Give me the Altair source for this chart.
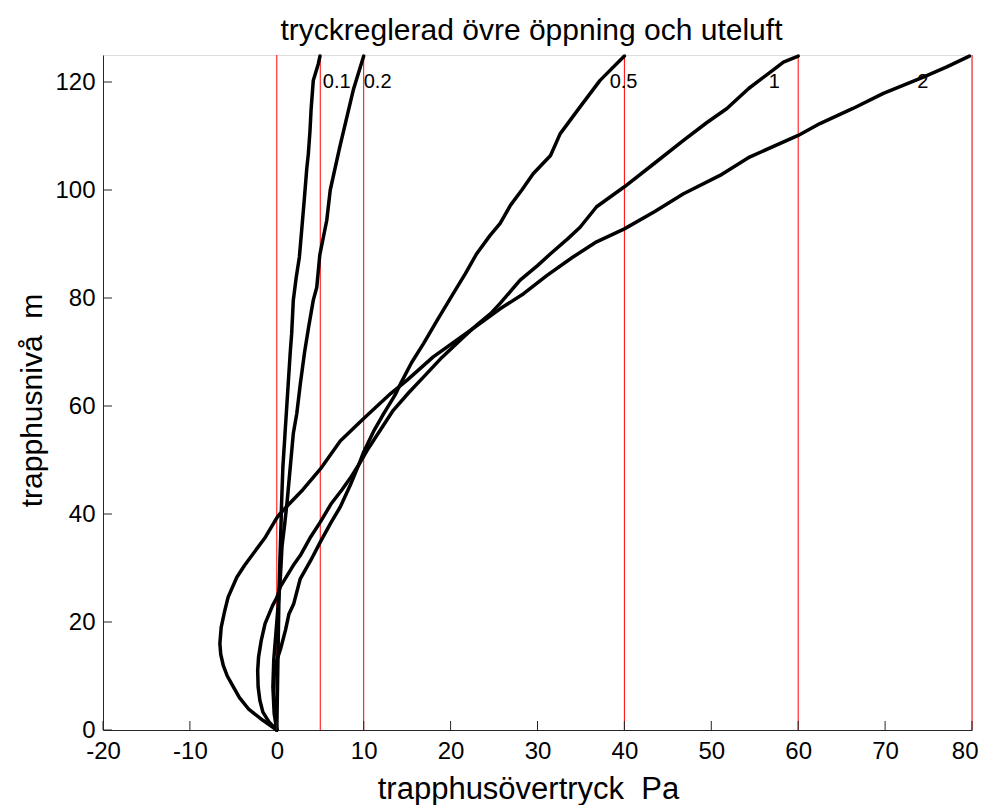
import altair as alt
import pandas as pd

# ---- data ----
ref_lines = [0, 5, 10, 40, 60, 80]
x_ticks = [-20, -10, 0, 10, 20, 30, 40, 50, 60, 70, 80]
y_ticks = [0, 20, 40, 60, 80, 100, 120]

c01_x = [0, 0.05, 0.1, 0.15, 0.2, 0.25, 0.35, 0.45, 0.55, 0.7, 0.95, 1.15, 1.33, 1.55, 1.71, 1.9, 2.25, 2.6, 2.86, 3.15, 3.45, 3.63, 3.82, 3.95, 4.2, 4.78, 4.97]
c01_y = [0, 5, 10, 15, 20, 25, 31, 36, 42, 48.7, 55, 60, 64.5, 70, 73.4, 79.6, 84, 87.6, 92.5, 98, 104, 106.7, 111, 115, 120.3, 123.4, 124.8]

c02_x = [0, -0.3, -0.45, -0.35, -0.1, 0.15, 0.4, 0.6, 0.9, 1.2, 1.55, 1.9, 2.3, 2.7, 3.2, 3.65, 4.2, 4.6, 4.95, 5.75, 6.15, 7.25, 8.8, 10.0]
c02_y = [0, 3, 8, 13, 18, 23, 28, 34, 38, 42.5, 48.7, 54.9, 58.6, 64, 70, 74.5, 79.6, 82, 88, 94.4, 100, 108, 118.5, 124.8]

c05_x = [0, -0.2, -0.35, -0.3, 0, 0.43, 1.0, 1.4, 1.95, 2.7, 3.9, 5.0, 6.2, 7.3, 8.5, 9.4, 10.0, 11.2, 12.3, 13.6, 14.2, 15.5, 16.9, 18.5, 20.3, 21.7, 23.0, 24.5, 25.7, 26.9, 28.2, 29.5, 31.5, 32.6, 34.9, 37.2, 40.0]
c05_y = [0, 3, 7, 10, 12.9, 15, 18.5, 21.5, 23.4, 28, 31.4, 34.8, 38.3, 41.3, 45.5, 49.0, 51.5, 55.5, 58.6, 62, 64, 68, 71.6, 76, 80.8, 84.5, 88.2, 91.5, 93.8, 97.2, 100, 103, 106.4, 110.4, 115.4, 120.3, 124.8]

c1_x = [0, -0.9, -1.6, -1.95, -2.15, -2.2, -2.1, -1.8, -1.35, -0.5, 0.0, 0.4, 1.9, 2.7, 3.8, 5.0, 6.3, 7.5, 8.6, 9.5, 10.4, 11.9, 13.4, 15.2, 16.9, 19.0, 21.5, 23.0, 24.6, 25.7, 28.0, 30.0, 31.5, 33.5, 34.9, 36.8, 40.0, 43.5, 46.8, 49.5, 51.8, 54.3, 57.1, 58.3, 60.0]
c1_y = [0, 1.5, 3.3, 5.5, 8, 11, 13.5, 16.5, 19.7, 23, 24.5, 26.5, 30.5, 32.3, 35.5, 38.5, 42, 44.5, 47, 49.3, 51.8, 55.5, 59.2, 62.5, 65.4, 69, 72.8, 75, 77.1, 79.0, 83.3, 86, 88.2, 91, 93.1, 96.9, 100.6, 105, 109.2, 112.5, 115.1, 118.8, 122.2, 123.7, 124.8]

c2_x = [0, -1.6, -3.2, -4.3, -5.0, -5.7, -6.15, -6.45, -6.55, -6.4, -6.0, -5.6, -4.6, -3.7, -2.7, -1.4, 0, 0.4, 1.5, 3.0, 5.0, 7.3, 10.0, 13.1, 15.0, 18.0, 21.5, 25.7, 28.4, 31.1, 34.0, 36.8, 40.0, 43.5, 46.8, 51.0, 54.4, 60.0, 62.5, 66.3, 69.8, 74.4, 77.1, 79.7]
c2_y = [0, 1.8, 3.8, 6, 8, 10, 11.9, 14, 16, 19, 22, 24.6, 28.3, 30.5, 32.7, 35.5, 39.3, 40.1, 42, 44.5, 48.3, 53.5, 57.7, 62.3, 64.8, 69.1, 73.1, 78.0, 80.8, 84.2, 87.5, 90.4, 92.8, 96, 99.3, 102.7, 106.1, 110.1, 112.3, 115.1, 117.9, 120.9, 122.8, 124.8]

labels = ["0.1", "0.2", "0.5", "1", "2"]
label_x = [5.3, 10.0, 38.3, 56.6, 73.7]
label_y = [120, 120, 120, 120, 120]

title_text = "tryckreglerad övre öppning och uteluft"

# ---- tables ----
rows = []
for name, xs_, ys_ in [("0.1", c01_x, c01_y), ("0.2", c02_x, c02_y), ("0.5", c05_x, c05_y),
                       ("1", c1_x, c1_y), ("2", c2_x, c2_y)]:
    for i, (a, b) in enumerate(zip(xs_, ys_)):
        rows.append({"series": name, "idx": i, "x": a, "y": b})
curves = pd.DataFrame(rows)
refs = pd.DataFrame({"x": ref_lines})
xt = pd.DataFrame({"x": x_ticks})
yt = pd.DataFrame({"y": y_ticks})
lab = pd.DataFrame({"label": labels, "x": label_x, "y": label_y})
ttl = pd.DataFrame({"t": [title_text]})

W, H = 869, 675
FONT = "Liberation Sans"
AX = "#262626"

xscale = alt.Scale(domain=[-20, 80], nice=False, zero=False)
yscale = alt.Scale(domain=[0, 125], nice=False, zero=False)

x_axis = alt.Axis(values=x_ticks, title="trapphusövertryck\u00a0\u00a0Pa", grid=False, ticks=False, tickSize=0,
                  labelFontSize=24, labelFont=FONT, labelColor="black", labelPadding=9,
                  labelExpr="'' + datum.value",
                  labelAlign=alt.condition("datum.value == 80", alt.value("right"), alt.value("center")),
                  labelOffset=alt.condition("datum.value == 80", alt.value(6), alt.value(0)),
                  domainColor=AX, domainWidth=1, titleFontSize=31, titleFont=FONT,
                  titleFontWeight="normal", titleColor="black", titleBaseline="alphabetic",
                  titleX=425, titleY=68, labelFlush=False)
y_axis = alt.Axis(values=y_ticks, title="trapphusnivå\u00a0\u00a0m", grid=False, ticks=False, tickSize=0,
                  labelFontSize=24, labelFont=FONT, labelColor="black", labelPadding=8,
                  labelExpr="'' + datum.value",
                  domainColor=AX, domainWidth=1, titleFontSize=30, titleFont=FONT,
                  titleFontWeight="normal", titleColor="black", titleBaseline="alphabetic",
                  titleX=-62, titleY=345, titleAngle=270, labelFlush=False)

X = alt.X("x:Q", scale=xscale, axis=x_axis)
Y = alt.Y("y:Q", scale=yscale, axis=y_axis)

red = alt.Chart(refs).mark_rule(color="#FF0000", strokeWidth=1).encode(x=X)

lines = alt.Chart(curves).mark_line(color="black", strokeWidth=3.5, strokeJoin="round",
                                    strokeCap="round").encode(
    x=X, y=Y, detail="series:N", order="idx:Q")

texts = alt.Chart(lab).mark_text(align="left", baseline="middle", fontSize=20, font=FONT,
                                 color="black").encode(x=X, y=Y, text="label:N")

xticks_l = alt.Chart(xt).mark_rule(color=AX, strokeWidth=1).encode(
    x=X, y=alt.value(H), y2=alt.value(H - 9))
yticks_l = alt.Chart(yt).mark_rule(color=AX, strokeWidth=1).encode(
    y=Y, x=alt.value(0), x2=alt.value(9))

title_l = alt.Chart(ttl).mark_text(align="center", baseline="alphabetic", fontSize=30, font=FONT,
                                   color="black").encode(
    x=alt.value(W / 2 - 6), y=alt.value(-15), text="t:N")

chart = alt.layer(red, lines, texts, xticks_l, yticks_l, title_l).properties(
    width=W, height=H,
    autosize=alt.AutoSizeParams(type="none"),
    padding={"left": 95, "top": 47, "right": 7, "bottom": 75},
).configure_view(stroke=None).configure(background="white")

chart.save("out.html", embed_options={"renderer": "svg", "actions": False})
